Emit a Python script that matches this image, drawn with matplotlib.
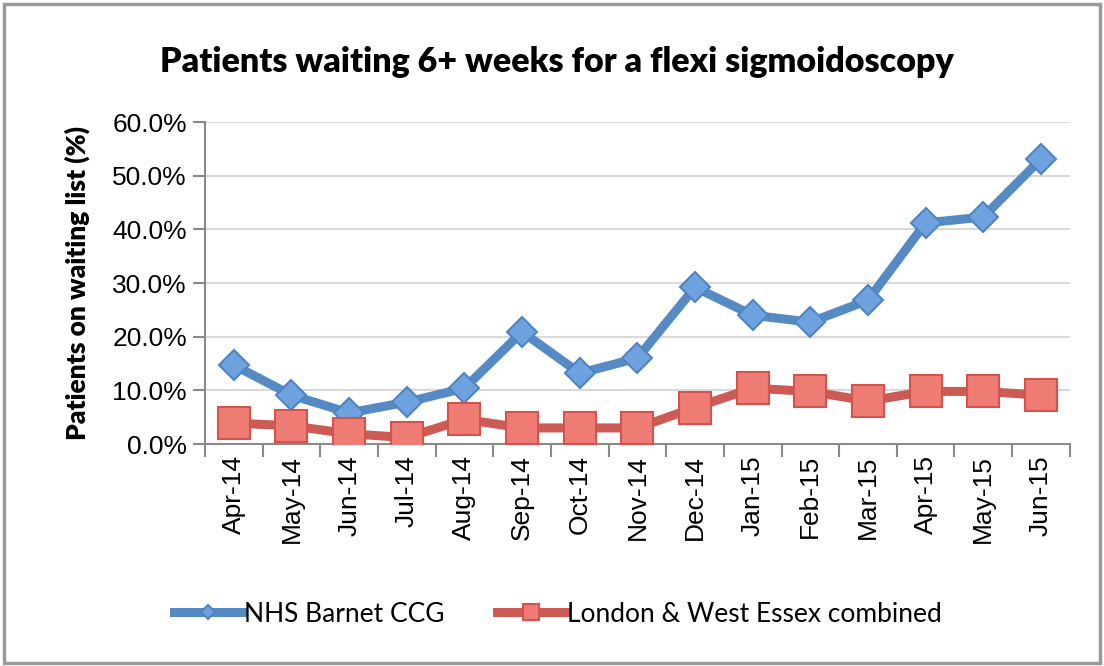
import matplotlib
matplotlib.use("Agg")
import matplotlib.pyplot as plt
from matplotlib.patches import Rectangle
from matplotlib.ticker import FuncFormatter

months = ["Apr-14", "May-14", "Jun-14", "Jul-14", "Aug-14", "Sep-14", "Oct-14", "Nov-14",
          "Dec-14", "Jan-15", "Feb-15", "Mar-15", "Apr-15", "May-15", "Jun-15"]
barnet = [14.7, 9.1, 5.8, 7.8, 10.4, 20.9, 13.2, 16.0, 29.2, 24.0, 22.7, 26.8, 41.2, 42.3, 53.1]
london = [3.9, 3.4, 1.9, 1.2, 4.6, 3.0, 3.0, 3.0, 6.8, 10.4, 9.8, 8.0, 9.8, 9.8, 9.1]
yticks = [0, 10, 20, 30, 40, 50, 60]

title_font = "Lato"
tick_font = "Liberation Sans"

fig = plt.figure(figsize=(11.04, 6.66), dpi=100)
fig.patch.set_facecolor("white")
fig.add_artist(Rectangle((0.004, 0.004), 0.992, 0.99, transform=fig.transFigure,
                         fill=False, edgecolor="#9a9a9a", linewidth=2.5))

ax = fig.add_axes([0.1857, 0.3333, 0.7833, 0.4835])
x = list(range(len(months)))

ax.plot(x, barnet, color="#558ac5", linewidth=6.5, marker="D", markersize=15,
        markerfacecolor="#6ea2df", markeredgecolor="#4f84c2", markeredgewidth=1.5,
        label="NHS Barnet CCG", zorder=3)
ax.plot(x, london, color="#cc5b55", linewidth=6.5, marker="s", markersize=23,
        markerfacecolor="#ee7b74", markeredgecolor="#d4534c", markeredgewidth=1.5,
        label="London & West Essex combined", zorder=3)

ax.set_xlim(-0.5, len(months) - 0.5)
ax.set_ylim(0, 60)
ax.set_yticks(yticks)
ax.yaxis.set_major_formatter(FuncFormatter(lambda v, p: f"{v:.1f}%"))
ax.set_xticks(x)
ax.set_xticklabels(months, rotation=90, fontsize=19, family=tick_font)
ax.set_xticks([i - 0.5 for i in range(len(months) + 1)], minor=True)
ax.tick_params(axis="x", which="major", length=0, pad=8)
ax.tick_params(axis="x", which="minor", length=9, width=1.5, color="#8a8a8a", direction="out")
ax.tick_params(axis="y", length=9, width=1.5, color="#8a8a8a", direction="out", pad=4)
for lab in ax.get_yticklabels():
    lab.set_fontsize(19)
    lab.set_family(tick_font)

ax.grid(axis="y", color="#d9d9d9", linewidth=1.5)
ax.set_axisbelow(True)
for s in ["top", "right"]:
    ax.spines[s].set_visible(False)
ax.spines["left"].set_color("#8a8a8a")
ax.spines["bottom"].set_color("#8a8a8a")
ax.spines["left"].set_linewidth(1.5)
ax.spines["bottom"].set_linewidth(1.5)

ax.set_ylabel("Patients on waiting list (%)", fontsize=19, fontweight="heavy",
              family=title_font, labelpad=16)

fig.text(0.504, 0.907, "Patients waiting 6+ weeks for a flexi sigmoidoscopy",
         ha="center", va="center", fontsize=24.5, fontweight="heavy", family=title_font)

fig.legend(loc="center", bbox_to_anchor=(0.505, 0.078), ncol=2, frameon=False,
           prop={"family": title_font, "size": 19}, handlelength=2.6,
           handletextpad=0.05, columnspacing=2.0, markerscale=0.5)

fig.savefig("out.png", dpi=100, facecolor="white")
